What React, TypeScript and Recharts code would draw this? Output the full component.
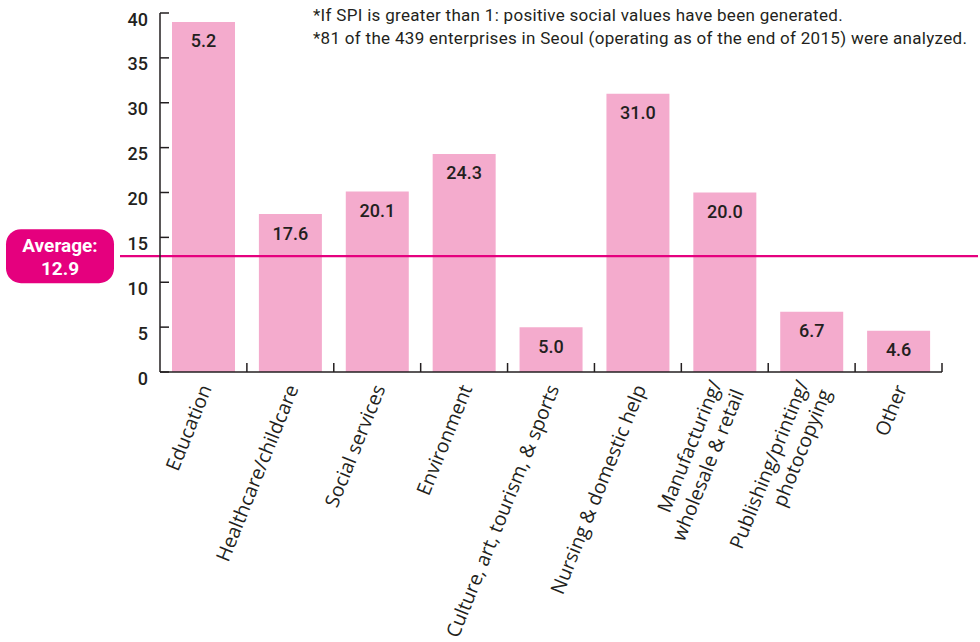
import React from 'react';
import { BarChart, Bar, XAxis, YAxis, ReferenceLine, LabelList } from 'recharts';

const categories = [
  'Education',
  'Healthcare/childcare',
  'Social services',
  'Environment',
  'Culture, art, tourism, & sports',
  'Nursing & domestic help',
  'Manufacturing/\nwholesale & retail',
  'Publishing/printing/\nphotocopying',
  'Other',
];
const barValues = [39.0, 17.6, 20.1, 24.3, 5.0, 31.0, 20.0, 6.7, 4.6];
const barLabels = ['5.2', '17.6', '20.1', '24.3', '5.0', '31.0', '20.0', '6.7', '4.6'];
const yTicks = [0, 5, 10, 15, 20, 25, 30, 35, 40];
const average = 12.9;
const notes = [
  '*If SPI is greater than 1: positive social values have been generated.',
  '*81 of the 439 enterprises in Seoul (operating as of the end of 2015) were analyzed.',
];

const data = categories.map((name, i) => ({ name, value: barValues[i], label: barLabels[i] }));

const INK = '#231f20';
const PINK = '#f4abcd';
const MAGENTA = '#e5007e';
const NUM_FONT = 'Roboto, sans-serif';
const CAT_FONT = '"Open Sans", sans-serif';

const YTick = ({ x, y, payload }: any) => (
  <g>
    <line x1={x} y1={y} x2={x + 9} y2={y} stroke={INK} strokeWidth={1.5} />
    <text x={x - 12} y={y + 6} textAnchor="end" dominantBaseline="central" fontFamily={NUM_FONT} fontWeight={500} fontSize={18} fill={INK}>
      {payload.value}
    </text>
  </g>
);

const XTick = ({ x, y, payload, index }: any) => {
  const half = payload.offset || 43.4;
  const lines = String(payload.value).split('\n');
  const lh = 24;
  return (
    <g>
      {index > 0 && <line x1={x - half} y1={y} x2={x - half} y2={y - 9} stroke={INK} strokeWidth={1.5} />}
      {index === categories.length - 1 && <line x1={x + half} y1={y} x2={x + half} y2={y - 9} stroke={INK} strokeWidth={1.5} />}
      <text transform={`translate(${x + 3},${y + 14}) rotate(-68)`} textAnchor="end" fontFamily={CAT_FONT} fontSize={19.5} fill={INK}>
        {lines.map((l, i) => (
          <tspan key={i} x={0} y={(i - (lines.length - 1) / 2) * lh + 6}>{l}</tspan>
        ))}
      </text>
    </g>
  );
};

const AverageShape = (props: any) => {
  const y = props.y1;
  return (
    <g>
      <line x1={120} y1={y} x2={978} y2={y} stroke={MAGENTA} strokeWidth={2.2} />
      <rect x={6} y={y - 27} width={108} height={54} rx={15} fill={MAGENTA} />
      <text x={60} y={y - 4} textAnchor="middle" fontFamily={NUM_FONT} fontWeight={700} fontSize={19} fill="#fff">Average:</text>
      <text x={60} y={y + 19} textAnchor="middle" fontFamily={NUM_FONT} fontWeight={700} fontSize={19} fill="#fff">{average}</text>
    </g>
  );
};

const BarLabel = ({ x, y, width, value }: any) => (
  <text x={x + width / 2} y={y + 19} textAnchor="middle" dominantBaseline="central" fontFamily={NUM_FONT} fontWeight={500} fontSize={18} fill={INK}>
    {value}
  </text>
);

export default function App() {
  return (
    <div style={{ position: 'absolute', left: 0, top: 0, width: 980, height: 642, background: '#fff' }}>
      <BarChart width={980} height={642} data={data} margin={{ top: 13, right: 38, left: 100, bottom: 10 }}>
        <XAxis
          dataKey="name"
          interval={0}
          height={260}
          tickSize={0}
          tickMargin={0}
          tickLine={false}
          axisLine={{ stroke: INK, strokeWidth: 1.5 }}
          tick={<XTick />}
        />
        <YAxis
          domain={[0, 40]}
          ticks={yTicks}
          width={60}
          tickSize={0}
          tickMargin={0}
          tickLine={false}
          axisLine={{ stroke: INK, strokeWidth: 1.5 }}
          tick={<YTick />}
        />
        <Bar dataKey="value" fill={PINK} barSize={63} isAnimationActive={false}>
          <LabelList dataKey="label" content={<BarLabel />} />
        </Bar>
        <ReferenceLine y={average} shape={<AverageShape />} />
      </BarChart>
      <div style={{ position: 'absolute', left: 313, top: 4, fontFamily: NUM_FONT, fontSize: 17, letterSpacing: 0.3, lineHeight: '23px', color: INK, whiteSpace: 'nowrap' }}>
        {notes.map((n, i) => (
          <div key={i}>{n}</div>
        ))}
      </div>
    </div>
  );
}
